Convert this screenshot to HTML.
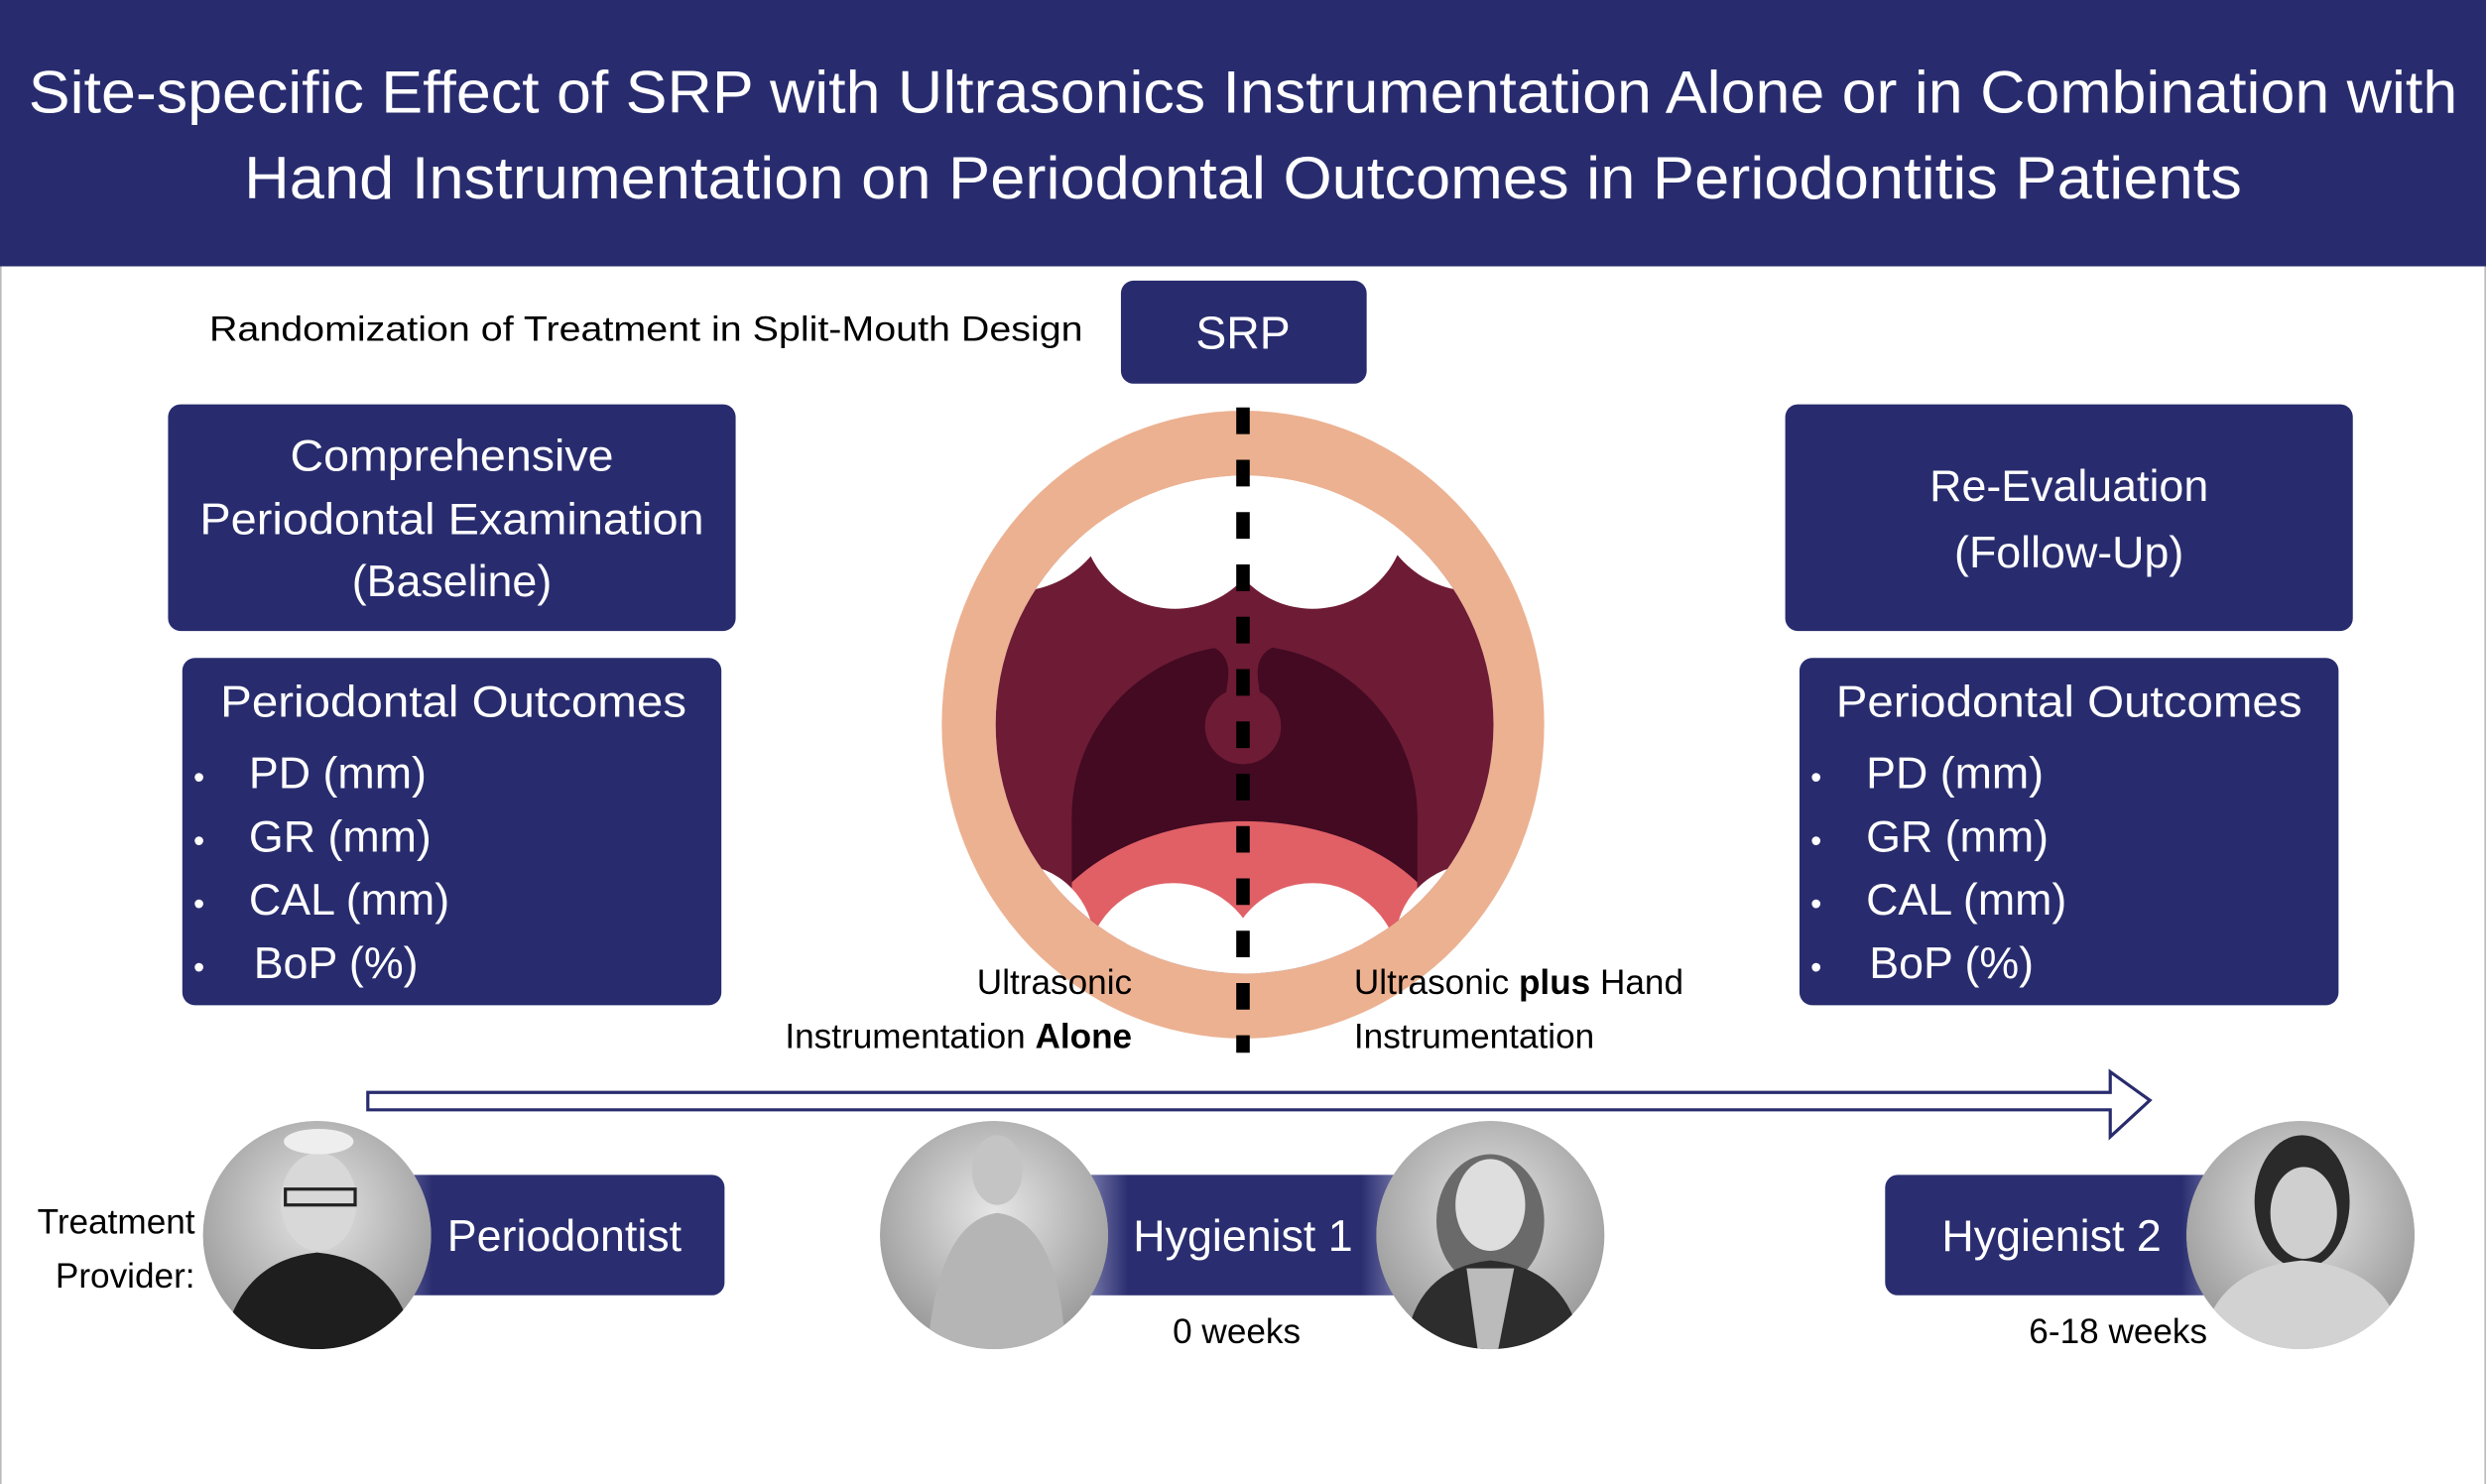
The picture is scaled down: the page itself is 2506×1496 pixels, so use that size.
<!DOCTYPE html>
<html><head><meta charset="utf-8"><style>
html,body{margin:0;padding:0;background:#fff;}
svg{display:block;}
text{font-family:"Liberation Sans",sans-serif;}
</style></head><body>
<svg width="2506" height="1496" viewBox="0 0 1568 936" preserveAspectRatio="none" xmlns="http://www.w3.org/2000/svg">
<defs>
<linearGradient id="fadeL" x1="0" x2="1" y1="0" y2="0">
<stop offset="0" stop-color="#8a8cb8"/><stop offset="0.15" stop-color="#2a2e70"/><stop offset="1" stop-color="#2a2e70"/></linearGradient>
<linearGradient id="fadeB" x1="0" x2="1" y1="0" y2="0">
<stop offset="0" stop-color="#8a8cb8"/><stop offset="0.15" stop-color="#2a2e70"/><stop offset="0.85" stop-color="#2a2e70"/><stop offset="1" stop-color="#8a8cb8"/></linearGradient>
<linearGradient id="fadeR" x1="0" x2="1" y1="0" y2="0">
<stop offset="0" stop-color="#2a2e70"/><stop offset="0.85" stop-color="#2a2e70"/><stop offset="1" stop-color="#8a8cb8"/></linearGradient>
<clipPath id="inner"><ellipse cx="785" cy="457" rx="157" ry="157"/></clipPath>
<clipPath id="throat"><path d="M676,515 A109,108 0 0 1 894,515 L894,600 L676,600 Z"/></clipPath>
<radialGradient id="ph" cx="0.5" cy="0.4" r="0.6"><stop offset="0" stop-color="#e6e6e6"/><stop offset="1" stop-color="#9a9a9a"/></radialGradient>
<clipPath id="c1"><circle cx="200" cy="779" r="72"/></clipPath>
<clipPath id="c2"><circle cx="627" cy="779" r="72"/></clipPath>
<clipPath id="c3"><circle cx="940" cy="779" r="72"/></clipPath>
<clipPath id="c4"><circle cx="1451" cy="779" r="72"/></clipPath>
</defs>
<rect x="0" y="0" width="1568" height="936" fill="#fff"/>
<line x1="0.5" y1="0" x2="0.5" y2="936" stroke="#bbb" stroke-width="1"/>
<line x1="1567.5" y1="0" x2="1567.5" y2="936" stroke="#bbb" stroke-width="1"/>
<rect x="0" y="0" width="1568" height="168" fill="#282c6e"/>
<text x="784" y="71" font-size="38" fill="#fff" text-anchor="middle" textLength="1532" lengthAdjust="spacingAndGlyphs">Site-specific Effect of SRP with Ultrasonics Instrumentation Alone or in Combination with</text>
<text x="784" y="125" font-size="38" fill="#fff" text-anchor="middle" textLength="1260" lengthAdjust="spacingAndGlyphs">Hand Instrumentation on Periodontal Outcomes in Periodontitis Patients</text>
<text x="132" y="215" font-size="22" fill="#000" textLength="551" lengthAdjust="spacingAndGlyphs">Randomization of Treatment in Split-Mouth Design</text>
<rect x="707" y="177" width="155" height="65" rx="8" fill="#282c6e"/>
<text x="784" y="220" font-size="29" fill="#fff" text-anchor="middle">SRP</text>
<rect x="106" y="255" width="358" height="143" rx="8" fill="#282c6e"/>
<g font-size="28" fill="#fff" text-anchor="middle">
<text x="285" y="297" textLength="204" lengthAdjust="spacingAndGlyphs">Comprehensive</text>
<text x="285" y="337" textLength="318" lengthAdjust="spacingAndGlyphs">Periodontal Examination</text>
<text x="285" y="376">(Baseline)</text>
</g>
<rect x="115" y="415" width="340" height="219" rx="8" fill="#282c6e"/>
<g font-size="28" fill="#fff">
<text x="139" y="452" textLength="294" lengthAdjust="spacingAndGlyphs">Periodontal Outcomes</text>
<text x="122" y="497" font-size="20">•</text><text x="157" y="497">PD (mm)</text>
<text x="122" y="537" font-size="20">•</text><text x="157" y="537">GR (mm)</text>
<text x="122" y="577" font-size="20">•</text><text x="157" y="577">CAL (mm)</text>
<text x="122" y="617" font-size="20">•</text><text x="160" y="617">BoP (%)</text>
</g>
<rect x="1126" y="255" width="358" height="143" rx="8" fill="#282c6e"/>
<g font-size="28" fill="#fff" text-anchor="middle">
<text x="1305" y="316">Re-Evaluation</text>
<text x="1305" y="358">(Follow-Up)</text>
</g>
<rect x="1135" y="415" width="340" height="219" rx="8" fill="#282c6e"/>
<g font-size="28" fill="#fff">
<text x="1158" y="452" textLength="294" lengthAdjust="spacingAndGlyphs">Periodontal Outcomes</text>
<text x="1142" y="497" font-size="20">•</text><text x="1177" y="497">PD (mm)</text>
<text x="1142" y="537" font-size="20">•</text><text x="1177" y="537">GR (mm)</text>
<text x="1142" y="577" font-size="20">•</text><text x="1177" y="577">CAL (mm)</text>
<text x="1142" y="617" font-size="20">•</text><text x="1179" y="617">BoP (%)</text>
</g>
<ellipse cx="784" cy="457" rx="190" ry="198" fill="#ecb191"/>
<ellipse cx="785" cy="457" rx="157" ry="157" fill="#fff"/>
<g clip-path="url(#inner)">
<rect x="620" y="340" width="330" height="240" fill="#6e1b35"/>
<ellipse cx="785" cy="515" rx="109" ry="108" fill="#430a22"/>
<rect x="676" y="515" width="218" height="80" fill="#430a22"/>
<g clip-path="url(#throat)"><ellipse cx="785" cy="612" rx="135" ry="94" fill="#e06066"/></g>
<circle cx="784" cy="458" r="24" fill="#6e1b35"/>
<path d="M762,407 Q778,412 774,432 L772,448 L796,448 L794,432 Q790,412 806,407 Z" fill="#6e1b35"/>
<g fill="#fff">
<circle cx="640" cy="310" r="63"/><circle cx="741" cy="325" r="59"/><circle cx="828" cy="325" r="59"/><circle cx="930" cy="310" r="63"/>
<circle cx="640" cy="595" r="50"/><circle cx="740" cy="612" r="55"/><circle cx="828" cy="612" r="55"/><circle cx="930" cy="595" r="50"/>
</g>
</g>
<line x1="784" y1="257" x2="784" y2="664" stroke="#000" stroke-width="8.5" stroke-dasharray="16.8,16.2"/>
<g font-size="22" fill="#000">
<text x="714" y="627" text-anchor="end">Ultrasonic</text>
<text x="714" y="661" text-anchor="end">Instrumentation <tspan font-weight="bold">Alone</tspan></text>
<text x="854" y="627">Ultrasonic <tspan font-weight="bold">plus</tspan> Hand</text>
<text x="854" y="661">Instrumentation</text>
</g>
<path d="M232,689 L1331,689 L1331,676 L1356,694 L1331,717 L1331,700 L232,700 Z" fill="#fff" stroke="#282c6e" stroke-width="2"/>
<rect x="240" y="741" width="217" height="76" rx="8" fill="url(#fadeL)"/>
<rect x="680" y="741" width="210" height="76" fill="url(#fadeB)"/>
<rect x="1189" y="741" width="220" height="76" rx="8" fill="url(#fadeR)"/>
<g font-size="28" fill="#fff">
<text x="356" y="789" text-anchor="middle">Periodontist</text>
<text x="784" y="789" text-anchor="middle">Hygienist 1</text>
<text x="1294" y="789" text-anchor="middle">Hygienist 2</text>
</g>
<g clip-path="url(#c1)"><circle cx="200" cy="779" r="72" fill="url(#ph)"/><ellipse cx="201" cy="758" rx="24" ry="31" fill="#d8d8d8"/><ellipse cx="201" cy="720" rx="22" ry="8" fill="#eee"/><path d="M140,851 Q150,795 200,790 Q252,795 262,851 Z" fill="#1e1e1e"/><rect x="180" y="750" width="44" height="10" fill="none" stroke="#222" stroke-width="2"/></g>
<g clip-path="url(#c2)"><circle cx="627" cy="779" r="72" fill="url(#ph)"/><ellipse cx="629" cy="738" rx="16" ry="22" fill="#c4c4c4"/><path d="M585,851 Q592,770 629,765 Q668,770 672,851 Z" fill="#b5b5b5"/></g>
<g clip-path="url(#c3)"><circle cx="940" cy="779" r="72" fill="url(#ph)"/><ellipse cx="940" cy="770" rx="34" ry="42" fill="#6a6a6a"/><ellipse cx="940" cy="760" rx="22" ry="29" fill="#dedede"/><path d="M886,851 Q892,800 940,795 Q990,800 998,851 Z" fill="#2d2d2d"/><path d="M925,800 L955,800 L945,851 L932,851 Z" fill="#bbb"/></g>
<g clip-path="url(#c4)"><circle cx="1451" cy="779" r="72" fill="url(#ph)"/><ellipse cx="1452" cy="758" rx="30" ry="42" fill="#2a2a2a"/><ellipse cx="1453" cy="765" rx="21" ry="29" fill="#cfcfcf"/><path d="M1388,851 Q1395,800 1452,795 Q1510,800 1516,851 Z" fill="#d2d2d2"/></g>
<g font-size="22" fill="#000">
<text x="123" y="778" text-anchor="end">Treatment</text>
<text x="123" y="812" text-anchor="end">Provider:</text>
<text x="780" y="847" text-anchor="middle">0 weeks</text>
<text x="1336" y="847" text-anchor="middle">6-18 weeks</text>
</g>
</svg>
</body></html>
